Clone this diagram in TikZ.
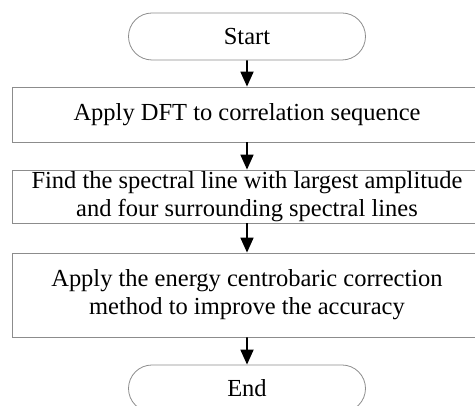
\documentclass[tikz,border=0pt]{standalone}
\usepackage{fontspec}
\setmainfont{Liberation Serif}
\usetikzlibrary{positioning,arrows.meta,shapes.misc}

\begin{document}
\begin{tikzpicture}[x=1pt,y=1pt]
	\definecolor{boxgray}{RGB}{140,140,140}
	\tikzset{
		term/.style={
			rounded rectangle, draw=boxgray, line width=0.8pt,
			minimum width=237pt, minimum height=47pt, inner sep=0pt,
			font=\fontsize{24.5}{28}\selectfont
		},
		proc/.style={
			rectangle, draw=boxgray, line width=0.8pt,
			minimum width=470pt, inner sep=0pt, align=center,
			font=\fontsize{24.5}{28}\selectfont
		},
		flow/.style={
			-{Triangle[length=15pt,width=13pt]},
			draw=black, line width=1.8pt
		}
	}
	\useasboundingbox (0,0) rectangle (475,406);
	
	% ======= Start / End =======
	\node[term] (start) at (247,369.5) {Start};
	\node[term] (fin)   at (247,17.5)  {End};
	
	% ======= Steps =======
	\node[proc, minimum height=55pt] (dft)  at (247,291.5) {Apply DFT to correlation sequence};
	\node[proc, minimum height=53pt] (peak) at (247,209.5) {Find the spectral line with largest amplitude\\and four surrounding spectral lines};
	\node[proc, minimum height=84pt] (corr) at (247,111)   {Apply the energy centrobaric correction\\method to improve the accuracy};
	
	% ======= Arrows =======
	\draw[flow] (start) -- (dft);
	\draw[flow] (dft)   -- (peak);
	\draw[flow] (peak)  -- (corr);
	\draw[flow] (corr)  -- (fin);
	
\end{tikzpicture}
\end{document}
